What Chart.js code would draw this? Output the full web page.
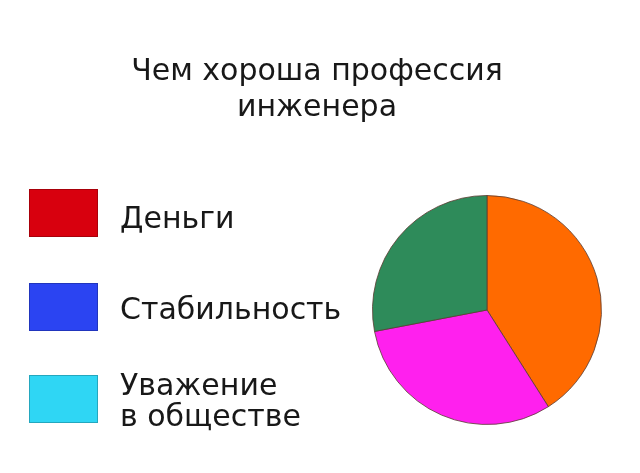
<!DOCTYPE html>
<html>
<head>
<meta charset="utf-8">
<script src="https://cdn.jsdelivr.net/npm/chart.js@4/dist/chart.umd.min.js"></script>
<style>
html,body{margin:0;padding:0;background:#fff;}
#wrap{width:640px;height:473px;position:relative;}
</style>
</head>
<body>
<div id="wrap"><canvas id="c"></canvas></div>
<script>
const titleLines = ['Чем хороша профессия', 'инженера'];
const categories = ['Деньги', 'Стабильность', 'Уважение в обществе'];
const legendLines = [['Деньги'], ['Стабильность'], ['Уважение', 'в обществе']];
const legendColors = ['#d8000e', '#2b44f2', '#2fd6f4'];
const values = [41, 31, 28];
const sliceColors = ['#ff6a00', '#ff20ee', '#2e8b5a'];

const FONT = '"DejaVu Sans", sans-serif';

const customDecor = {
  id: 'customDecor',
  afterDraw(chart) {
    const ctx = chart.ctx;
    ctx.save();
    // title
    ctx.fillStyle = '#181818';
    ctx.font = '30px ' + FONT;
    ctx.textAlign = 'center';
    ctx.textBaseline = 'alphabetic';
    const tBase = [80, 116];
    titleLines.forEach((t, i) => ctx.fillText(t, 317, tBase[i]));
    // legend
    const boxY = [189, 283, 375];
    const textBase = [228, 319, 395];
    ctx.textAlign = 'left';
    ctx.font = '30px ' + FONT;
    legendLines.forEach((lines, i) => {
      ctx.fillStyle = legendColors[i];
      ctx.fillRect(29, boxY[i], 69, 48);
      ctx.strokeStyle = 'rgba(0,0,0,0.22)';
      ctx.lineWidth = 1;
      ctx.strokeRect(29.5, boxY[i] + 0.5, 68, 47);
      ctx.fillStyle = '#181818';
      lines.forEach((l, j) => ctx.fillText(l, 120, textBase[i] + j * 31));
    });
    ctx.restore();
  }
};

new Chart(document.getElementById('c'), {
  type: 'pie',
  data: {
    labels: categories,
    datasets: [{
      data: values,
      backgroundColor: sliceColors,
      borderColor: 'rgba(90,60,50,0.8)',
      borderWidth: 1
    }]
  },
  options: {
    responsive: true,
    maintainAspectRatio: false,
    animation: false,
    layout: { padding: { left: 372, right: 38, top: 195, bottom: 48 } },
    plugins: {
      legend: { display: false },
      title: { display: false },
      tooltip: { enabled: false }
    }
  },
  plugins: [customDecor]
});
</script>
</body>
</html>
